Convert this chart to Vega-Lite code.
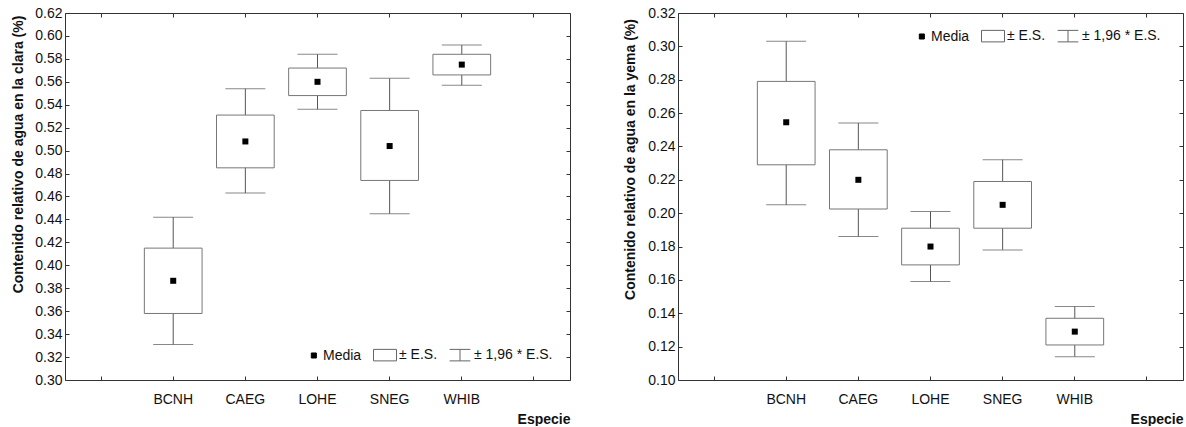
{
  "$schema": "https://vega.github.io/schema/vega-lite/v6.json",
  "padding": {"left": 11, "top": 6, "right": 0, "bottom": 0},
  "background": "white",
  "config": {
    "font": "Liberation Sans",
    "view": {"stroke": null},
    "axis": {"grid": false, "domainColor": "#333", "tickColor": "#333", "labelColor": "#111", "titleColor": "#111", "labelFont": "Liberation Sans", "titleFont": "Liberation Sans", "labelFontSize": 14, "titleFontSize": 14, "titleFontWeight": "bold"},
    "legend": {"labelFont": "Liberation Sans", "labelFontSize": 14, "labelColor": "#111"}
  },
  "datasets": {
    "clara": [
      {"Especie": "BCNH", "media": 0.3865, "es_lo": 0.358, "es_hi": 0.415, "ic_lo": 0.331, "ic_hi": 0.442},
      {"Especie": "CAEG", "media": 0.508, "es_lo": 0.485, "es_hi": 0.531, "ic_lo": 0.463, "ic_hi": 0.554},
      {"Especie": "LOHE", "media": 0.560, "es_lo": 0.548, "es_hi": 0.572, "ic_lo": 0.536, "ic_hi": 0.584},
      {"Especie": "SNEG", "media": 0.504, "es_lo": 0.474, "es_hi": 0.535, "ic_lo": 0.445, "ic_hi": 0.563},
      {"Especie": "WHIB", "media": 0.575, "es_lo": 0.566, "es_hi": 0.584, "ic_lo": 0.557, "ic_hi": 0.592}
    ],
    "yema": [
      {"Especie": "BCNH", "media": 0.2545, "es_lo": 0.229, "es_hi": 0.279, "ic_lo": 0.205, "ic_hi": 0.303},
      {"Especie": "CAEG", "media": 0.220, "es_lo": 0.2025, "es_hi": 0.238, "ic_lo": 0.186, "ic_hi": 0.254},
      {"Especie": "LOHE", "media": 0.180, "es_lo": 0.169, "es_hi": 0.191, "ic_lo": 0.159, "ic_hi": 0.201},
      {"Especie": "SNEG", "media": 0.205, "es_lo": 0.191, "es_hi": 0.219, "ic_lo": 0.178, "ic_hi": 0.232},
      {"Especie": "WHIB", "media": 0.129, "es_lo": 0.121, "es_hi": 0.137, "ic_lo": 0.114, "ic_hi": 0.144}
    ],
    "leyenda": [
      {"leyenda": "Media"},
      {"leyenda": "± E.S."},
      {"leyenda": "± 1,96 * E.S."}
    ]
  },
  "hconcat": [
    {
      "width": 505,
      "height": 367,
      "data": {"name": "clara"},
      "layer": [
        {
          "mark": {"type": "rule", "color": "#555", "strokeWidth": 1},
          "encoding": {
            "x": {"field": "Especie", "type": "nominal", "scale": {"domain": ["_a", "BCNH", "CAEG", "LOHE", "SNEG", "WHIB", "_b"], "paddingInner": 0, "paddingOuter": 0},
              "axis": {"orient": "bottom", "title": "Especie", "titleAnchor": "end", "titlePadding": 6, "labelAngle": 0, "labelPadding": 16, "tickSize": -4, "labelExpr": "indexof(datum.value, '_') == 0 ? '' : datum.value"}},
            "y": {"field": "ic_lo", "type": "quantitative", "scale": {"domain": [0.30, 0.62], "nice": false, "zero": false},
              "axis": {"orient": "left", "title": "Contenido relativo de agua en la clara (%)", "titleY": 141, "values": [0.30,0.32,0.34,0.36,0.38,0.40,0.42,0.44,0.46,0.48,0.50,0.52,0.54,0.56,0.58,0.60,0.62], "format": ".2f", "tickSize": -4, "labelPadding": 7, "titlePadding": 9}},
            "y2": {"field": "ic_hi"}
          }
        },
        {
          "mark": {"type": "bar", "fill": "white", "stroke": "#777", "strokeWidth": 1, "width": {"band": 0.8}},
          "encoding": {
            "x": {"field": "Especie", "type": "nominal", "axis": {"orient": "top", "title": null, "labels": false, "tickSize": -4, "minExtent": 0, "maxExtent": 0}},
            "y": {"field": "es_lo", "type": "quantitative", "axis": {"orient": "right", "title": null, "labels": false, "tickSize": -4, "minExtent": 0, "maxExtent": 0, "values": [0.30,0.32,0.34,0.36,0.38,0.40,0.42,0.44,0.46,0.48,0.50,0.52,0.54,0.56,0.58,0.60,0.62]}},
            "y2": {"field": "es_hi"}
          }
        },
        {
          "mark": {"type": "tick", "color": "#555", "size": 40, "thickness": 1},
          "encoding": {
            "x": {"field": "Especie", "type": "nominal", "axis": null},
            "y": {"field": "ic_hi", "type": "quantitative", "axis": null}
          }
        },
        {
          "mark": {"type": "tick", "color": "#555", "size": 40, "thickness": 1},
          "encoding": {
            "x": {"field": "Especie", "type": "nominal", "axis": null},
            "y": {"field": "ic_lo", "type": "quantitative", "axis": null}
          }
        },
        {
          "mark": {"type": "point", "shape": "square", "filled": true, "color": "black", "size": 36, "opacity": 1},
          "encoding": {
            "x": {"field": "Especie", "type": "nominal", "axis": null},
            "y": {"field": "media", "type": "quantitative", "axis": null}
          }
        },
        {
          "data": {"name": "leyenda"},
          "transform": [{"filter": "false"}],
          "mark": {"type": "point", "strokeWidth": 1, "opacity": 1},
          "encoding": {
            "shape": {"field": "leyenda", "type": "nominal", "scale": {"domain": ["Media", "± E.S.", "± 1,96 * E.S."], "range": ["M0.2,-0.22H0.64V0.22H0.2Z", "M-1,-0.5H1V0.5H-1Z", "M-0.9,-0.5H0.9M0,-0.5V0.5M-0.9,0.5H0.9"]},
              "legend": {"title": null, "orient": "bottom-right", "direction": "horizontal", "offset": 17, "symbolSize": 529, "labelOffset": 2, "columnPadding": 9, "symbolStrokeWidth": 1, "symbolOpacity": 1}},
            "fill": {"field": "leyenda", "type": "nominal", "scale": {"domain": ["Media", "± E.S.", "± 1,96 * E.S."], "range": ["black", "transparent", "transparent"]}},
            "stroke": {"field": "leyenda", "type": "nominal", "scale": {"domain": ["Media", "± E.S.", "± 1,96 * E.S."], "range": ["black", "#666", "#666"]}}
          }
        }
      ],
      "resolve": {"axis": {"x": "independent", "y": "independent"}}
    },
    {
      "width": 505,
      "height": 367,
      "data": {"name": "yema"},
      "layer": [
        {
          "mark": {"type": "rule", "color": "#555", "strokeWidth": 1},
          "encoding": {
            "x": {"field": "Especie", "type": "nominal", "scale": {"domain": ["_a", "BCNH", "CAEG", "LOHE", "SNEG", "WHIB", "_b"], "paddingInner": 0, "paddingOuter": 0},
              "axis": {"orient": "bottom", "title": "Especie", "titleAnchor": "end", "titlePadding": 6, "labelAngle": 0, "labelPadding": 16, "tickSize": -4, "labelExpr": "indexof(datum.value, '_') == 0 ? '' : datum.value"}},
            "y": {"field": "ic_lo", "type": "quantitative", "scale": {"domain": [0.10, 0.32], "nice": false, "zero": false},
              "axis": {"orient": "left", "title": "Contenido relativo de agua en la yema (%)", "titleY": 146, "values": [0.10,0.12,0.14,0.16,0.18,0.20,0.22,0.24,0.26,0.28,0.30,0.32], "format": ".2f", "tickSize": -4, "labelPadding": 7, "titlePadding": 10}},
            "y2": {"field": "ic_hi"}
          }
        },
        {
          "mark": {"type": "bar", "fill": "white", "stroke": "#777", "strokeWidth": 1, "width": {"band": 0.8}},
          "encoding": {
            "x": {"field": "Especie", "type": "nominal", "axis": {"orient": "top", "title": null, "labels": false, "tickSize": -4, "minExtent": 0, "maxExtent": 0}},
            "y": {"field": "es_lo", "type": "quantitative", "axis": {"orient": "right", "title": null, "labels": false, "tickSize": -4, "minExtent": 0, "maxExtent": 0, "values": [0.10,0.12,0.14,0.16,0.18,0.20,0.22,0.24,0.26,0.28,0.30,0.32]}},
            "y2": {"field": "es_hi"}
          }
        },
        {
          "mark": {"type": "tick", "color": "#555", "size": 40, "thickness": 1},
          "encoding": {
            "x": {"field": "Especie", "type": "nominal", "axis": null},
            "y": {"field": "ic_hi", "type": "quantitative", "axis": null}
          }
        },
        {
          "mark": {"type": "tick", "color": "#555", "size": 40, "thickness": 1},
          "encoding": {
            "x": {"field": "Especie", "type": "nominal", "axis": null},
            "y": {"field": "ic_lo", "type": "quantitative", "axis": null}
          }
        },
        {
          "mark": {"type": "point", "shape": "square", "filled": true, "color": "black", "size": 36, "opacity": 1},
          "encoding": {
            "x": {"field": "Especie", "type": "nominal", "axis": null},
            "y": {"field": "media", "type": "quantitative", "axis": null}
          }
        },
        {
          "data": {"name": "leyenda"},
          "transform": [{"filter": "false"}],
          "mark": {"type": "point", "strokeWidth": 1, "opacity": 1},
          "encoding": {
            "shape": {"field": "leyenda", "type": "nominal", "scale": {"domain": ["Media", "± E.S.", "± 1,96 * E.S."], "range": ["M0.2,-0.22H0.64V0.22H0.2Z", "M-1,-0.5H1V0.5H-1Z", "M-0.9,-0.5H0.9M0,-0.5V0.5M-0.9,0.5H0.9"]},
              "legend": {"title": null, "orient": "none", "legendX": 227, "legendY": 11, "direction": "horizontal", "symbolSize": 529, "labelOffset": 2, "columnPadding": 9, "symbolStrokeWidth": 1, "symbolOpacity": 1}},
            "fill": {"field": "leyenda", "type": "nominal", "scale": {"domain": ["Media", "± E.S.", "± 1,96 * E.S."], "range": ["black", "transparent", "transparent"]}},
            "stroke": {"field": "leyenda", "type": "nominal", "scale": {"domain": ["Media", "± E.S.", "± 1,96 * E.S."], "range": ["black", "#666", "#666"]}}
          }
        }
      ],
      "resolve": {"axis": {"x": "independent", "y": "independent"}}
    }
  ],
  "spacing": 52,
  "resolve": {"scale": {"shape": "independent", "fill": "independent", "stroke": "independent"}, "legend": {"shape": "independent", "fill": "independent", "stroke": "independent"}}
}
